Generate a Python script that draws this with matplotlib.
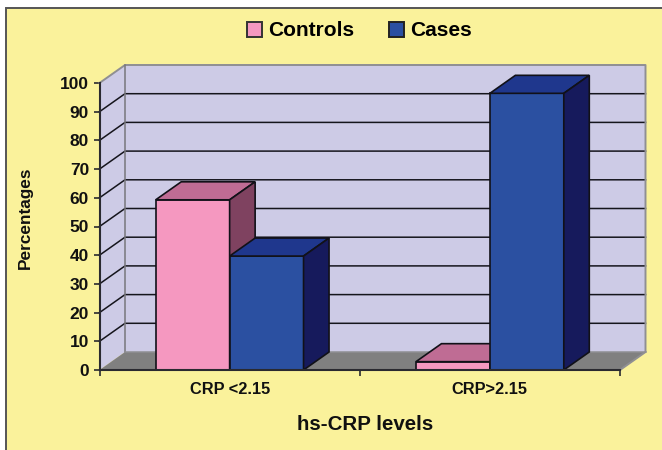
import matplotlib
matplotlib.use('Agg')
import matplotlib.pyplot as plt
from matplotlib.patches import Patch, Rectangle

categories = ['CRP <2.15', 'CRP>2.15']
series_names = ['Controls', 'Cases']
controls = [59.3, 2.9]
cases = [39.7, 96.4]
y_ticks = [0, 10, 20, 30, 40, 50, 60, 70, 80, 90, 100]

W, H = 662, 450
BG = '#FAF29B'
WALL = '#CDCBE6'
FLOOR = '#808080'
# front, top, side
PINK = ['#F598C0', '#BF6C94', '#7F4260']
BLUE = ['#2B50A1', '#1F378D', '#161A5C']
EDGE = '#111118'

plt.rcParams['font.family'] = ['Liberation Sans', 'DejaVu Sans']
plt.rcParams['font.weight'] = 'bold'

fig = plt.figure(figsize=(W / 100, H / 100), dpi=100, facecolor='white')
fig.add_artist(Rectangle((5.5 / W, -0.02), 1, (H - 8) / H + 0.02, transform=fig.transFigure,
                         facecolor=BG, edgecolor='#555555', linewidth=1.4, zorder=-1))

ax = fig.add_axes([99.5 / W, (H - 370) / H, 520.5 / W, 287 / H])
ax.patch.set_visible(False)
ax.set_xlim(0, 2)
ax.set_ylim(0, 100)

# depth of the fake 3d box, in data units
dx = 25.5 / 260.25
dy = 18 / 2.87
bar_w = 0.284

# walls and floor
ax.fill([0, dx, dx, 0], [0, dy, 100 + dy, 100], facecolor=WALL, edgecolor='none', zorder=1, clip_on=False)
ax.fill([dx, 2 + dx, 2 + dx, dx], [dy, dy, 100 + dy, 100 + dy], facecolor=WALL, edgecolor='none', zorder=1, clip_on=False)
ax.fill([0, 2, 2 + dx, dx], [0, 0, dy, dy], facecolor=FLOOR, edgecolor='none', zorder=1, clip_on=False)

# gridlines on back and side wall
for v in y_ticks[1:-1]:
    ax.plot([0, dx, 2 + dx], [v, v + dy, v + dy], color='#15151c', lw=1.1, zorder=2, clip_on=False)
ax.plot([0, dx, 2 + dx, 2 + dx, 2], [100, 100 + dy, 100 + dy, dy, 0], color='#8f8f93', lw=1.4, zorder=2, clip_on=False)
ax.plot([dx, dx], [dy, 100 + dy], color='#77777c', lw=1.1, zorder=2, clip_on=False)
ax.plot([dx, 2 + dx], [dy, dy], color='#8f8f93', lw=1.1, zorder=2, clip_on=False)


def bar3d(x0, val, cols, z):
    x1 = x0 + bar_w
    ax.bar(x0, val, bar_w, align='edge', color=cols[0], edgecolor=EDGE, linewidth=1.2, zorder=z, clip_on=False)
    ax.fill([x0, x1, x1 + dx, x0 + dx], [val, val, val + dy, val + dy],
            facecolor=cols[1], edgecolor=EDGE, linewidth=1.2, zorder=z, clip_on=False)
    ax.fill([x1, x1 + dx, x1 + dx, x1], [0, dy, val + dy, val],
            facecolor=cols[2], edgecolor=EDGE, linewidth=1.2, zorder=z, clip_on=False)


for i in range(len(categories)):
    center = i + 0.5
    bar3d(center - bar_w, controls[i], PINK, 3 + i * 2)
    bar3d(center, cases[i], BLUE, 4 + i * 2)

for name in ['top', 'right']:
    ax.spines[name].set_visible(False)
for name in ['left', 'bottom']:
    ax.spines[name].set_linewidth(1.5)
    ax.spines[name].set_color('#2a2a30')
    ax.spines[name].set_zorder(10)

ax.set_yticks(y_ticks)
ax.tick_params(axis='y', labelsize=12.5, length=4.5, width=1.2, pad=3, color='#2a2a30', labelcolor='#111111')
ax.set_xticks([0, 1, 2])
ax.set_xticklabels([])
ax.tick_params(axis='x', length=4.5, width=1.2, color='#2a2a30')
for i, c in enumerate(categories):
    ax.annotate(c, (i + 0.5, 0), xytext=(0, -9), textcoords='offset points', ha='center', va='top',
                fontsize=11.8, color='#111111')

fig.text(25 / W, 1 - 218 / H, 'Percentages', rotation=90, ha='center', va='center', fontsize=12.4, color='#111111')
fig.text(365.5 / W, 1 - 424 / H, 'hs-CRP levels', ha='center', va='center', fontsize=14.8, color='#111111')

handles = [Patch(facecolor=PINK[0], edgecolor='#333333', linewidth=1.4),
           Patch(facecolor=BLUE[0], edgecolor='#222222', linewidth=1.4)]
fig.legend(handles, series_names, loc='center', bbox_to_anchor=(359.5 / W, 1 - 31 / H), ncol=2, frameon=False,
           fontsize=15, handlelength=0.72, handleheight=0.72, handletextpad=0.3, columnspacing=1.65)

fig.savefig('out.png', dpi=100, facecolor='white')
